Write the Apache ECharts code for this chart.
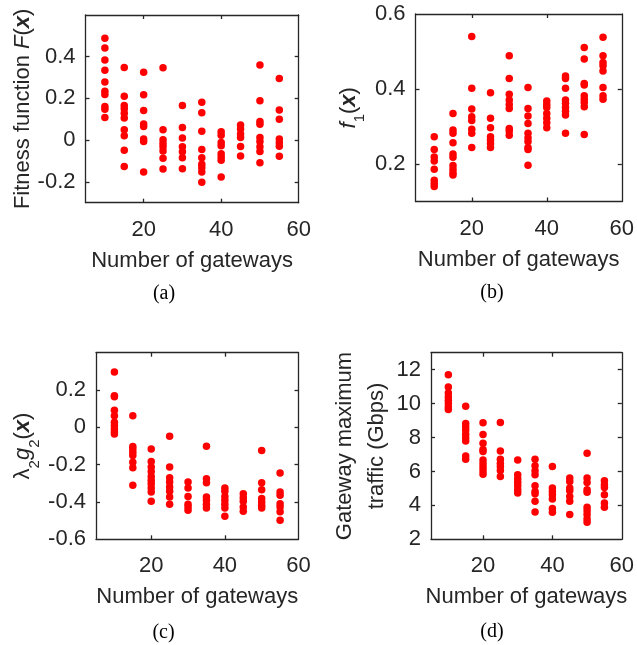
<!DOCTYPE html>
<html><head><meta charset="utf-8">
<script src="https://cdn.jsdelivr.net/npm/echarts@6/dist/echarts.min.js"></script>
<style>html,body{margin:0;padding:0;background:#fff;}#c{width:637px;height:645px;}</style>
</head><body><div id="c"></div>
<script>
// Gateway counts (x categories)
var gateways = [10, 15, 20, 25, 30, 35, 40, 45, 50, 55];

// (a) Fitness function F(x)
var fitnessVals = [
  [0.489, 0.442, 0.384, 0.335, 0.279, 0.234, 0.219, 0.161, 0.148, 0.108],
  [0.348, 0.210, 0.166, 0.150, 0.129, 0.106, 0.050, 0.021, -0.048, -0.127],
  [0.326, 0.218, 0.142, 0.077, 0.065, 0.005, -0.006, -0.153],
  [0.347, 0.050, 0.002, -0.016, -0.032, -0.052, -0.087, -0.139],
  [0.166, 0.060, 0.010, -0.032, -0.056, -0.084, -0.137],
  [0.182, 0.131, 0.042, -0.045, -0.084, -0.116, -0.132, -0.153, -0.202],
  [0.040, 0.024, -0.011, -0.027, -0.065, -0.081, -0.097, -0.177],
  [0.073, 0.053, 0.029, 0.013, -0.031, -0.076],
  [0.360, 0.189, 0.089, 0.076, 0.013, -0.006, -0.032, -0.055, -0.108],
  [0.295, 0.145, 0.100, 0.005, -0.013, -0.029, -0.077]
];

// (b) f1(x)
var f1Vals = [
  [0.273, 0.239, 0.219, 0.208, 0.186, 0.157, 0.148, 0.140],
  [0.335, 0.291, 0.282, 0.257, 0.227, 0.218, 0.196, 0.186, 0.177, 0.171],
  [0.540, 0.402, 0.347, 0.326, 0.316, 0.293, 0.282, 0.244],
  [0.390, 0.322, 0.297, 0.273, 0.264, 0.255, 0.244],
  [0.489, 0.428, 0.386, 0.371, 0.359, 0.348, 0.295, 0.288, 0.277],
  [0.404, 0.348, 0.328, 0.308, 0.282, 0.270, 0.260, 0.244, 0.239, 0.197],
  [0.368, 0.359, 0.351, 0.335, 0.322, 0.310, 0.297],
  [0.435, 0.428, 0.402, 0.371, 0.362, 0.351, 0.341, 0.331, 0.282],
  [0.511, 0.480, 0.415, 0.411, 0.382, 0.373, 0.364, 0.353, 0.279],
  [0.538, 0.489, 0.471, 0.462, 0.448, 0.404, 0.382, 0.373]
];

// (c) lambda2 g2(x)
var g2Vals = [
  [0.297, 0.169, 0.164, 0.092, 0.062, 0.027, 0.009, -0.009, -0.023, -0.036],
  [0.062, -0.103, -0.116, -0.133, -0.151, -0.187, -0.217, -0.311],
  [-0.116, -0.183, -0.213, -0.236, -0.263, -0.284, -0.302, -0.325, -0.347, -0.396],
  [-0.048, -0.213, -0.270, -0.293, -0.320, -0.343, -0.373, -0.412],
  [-0.293, -0.325, -0.370, -0.412, -0.427, -0.444],
  [-0.101, -0.276, -0.297, -0.373, -0.391, -0.414, -0.432],
  [-0.325, -0.343, -0.370, -0.391, -0.412, -0.432, -0.476],
  [-0.356, -0.377, -0.396, -0.427, -0.450],
  [-0.124, -0.297, -0.334, -0.382, -0.400, -0.418, -0.432],
  [-0.245, -0.347, -0.364, -0.409, -0.427, -0.453, -0.498]
];

// (d) Gateway maximum traffic (Gbps)
var trafficVals = [
  [11.70, 10.98, 10.63, 10.39, 10.20, 10.00, 9.80, 9.65],
  [9.84, 8.83, 8.63, 8.44, 8.20, 7.99, 7.79, 6.91, 6.72],
  [8.87, 8.18, 7.66, 7.30, 7.17, 6.68, 6.45, 6.25, 6.04, 5.84],
  [8.89, 7.21, 6.72, 6.48, 6.29, 6.05, 5.70],
  [6.68, 5.80, 5.57, 5.37, 5.16, 4.92, 4.73],
  [6.72, 6.33, 6.04, 5.80, 5.16, 4.82, 4.69, 4.24, 3.61],
  [6.29, 5.02, 4.82, 4.63, 4.38, 3.81, 3.59],
  [5.61, 5.41, 5.02, 4.86, 4.53, 4.24, 3.46],
  [7.07, 5.61, 5.35, 4.92, 4.77, 3.89, 3.69, 3.46, 3.20, 3.01],
  [5.45, 5.21, 5.06, 4.63, 4.14, 3.89]
];

// Tick labels
var xTicks = [20, 40, 60];
var yTicksA = [-0.2, 0, 0.2, 0.4];
var yTicksB = [0.2, 0.4, 0.6];
var yTicksC = [-0.6, -0.4, -0.2, 0, 0.2];
var yTicksD = [2, 4, 6, 8, 10, 12];

var xTitle = 'Number of gateways';
var captions = ['(a)', '(b)', '(c)', '(d)'];

var FONT = 'Liberation Sans, Arial, sans-serif';
var AX = '#262626';
var FS = 22;

function pts(vals) {
  var out = [];
  vals.forEach(function (g, i) { g.forEach(function (v) { out.push([gateways[i], v]); }); });
  return out;
}

var grids = [
  {left: 85.5, top: 15, width: 213.2, height: 187.7},
  {left: 415.5, top: 14, width: 210, height: 187.5},
  {left: 96, top: 352.7, width: 202.5, height: 186.6},
  {left: 431, top: 352.7, width: 193.3, height: 186.6}
];
var yRanges = [[-0.3, 0.6], [0.1, 0.6], [-0.6, 0.4], [2, 13]];
var yTickSets = [yTicksA, yTicksB, yTicksC, yTicksD];
var richBase = {fontSize: FS, fontFamily: FONT, color: AX};
function r(extra) { return Object.assign({}, richBase, extra || {}); }
var yNames = [
  '{n|Fitness function }{i|F}{n|(}{b|x}{n|)}',
  '{i|f}{s|1}{n|(}{b|x}{n|)}',
  '{n|λ}{s|2}{i|g}{s|2}{n|(}{b|x}{n|)}',
  'Gateway maximum\ntraffic (Gbps)'
];
var yNameGaps = [50, 54, 60, 36];
var rich = {
  n: r({lineHeight: 26}),
  i: r({fontStyle: 'italic', lineHeight: 26}),
  b: r({fontWeight: 'bold', fontStyle: 'italic', lineHeight: 26}),
  s: r({fontSize: 15, lineHeight: 26, verticalAlign: 'bottom', padding: [0, 0, -6, 0]})
};
var seriesVals = [fitnessVals, f1Vals, g2Vals, trafficVals];

var lineStyle = {color: AX, width: 1.3};
var xAxes = [], yAxes = [], series = [];
grids.forEach(function (g, k) {
  var baseX = {
    type: 'value', gridIndex: k, min: 5, max: 60,
    splitLine: {show: false},
    axisLine: {show: true, onZero: false, lineStyle: lineStyle},
    axisTick: {show: true, inside: true, length: 4, lineStyle: lineStyle, customValues: [20, 40]}
  };
  xAxes.push(Object.assign({}, baseX, {
    position: 'bottom',
    axisLabel: {show: true, customValues: xTicks, margin: 16, fontSize: FS, fontFamily: FONT, color: AX},
    name: xTitle, nameLocation: 'middle', nameGap: 47,
    nameTextStyle: {fontSize: FS, fontFamily: FONT, color: AX}
  }));
  xAxes.push(Object.assign({}, baseX, {position: 'top', axisLabel: {show: false}}));
  var yr = yRanges[k], yt = yTickSets[k];
  var inner = yt.filter(function (v) { return v > yr[0] && v < yr[1]; });
  var baseY = {
    type: 'value', gridIndex: k, min: yr[0], max: yr[1],
    splitLine: {show: false},
    axisLine: {show: true, onZero: false, lineStyle: lineStyle},
    axisTick: {show: true, inside: true, length: 4, lineStyle: lineStyle, customValues: inner}
  };
  yAxes.push(Object.assign({}, baseY, {
    position: 'left',
    axisLabel: {show: true, customValues: yt, margin: 10, fontSize: FS, fontFamily: FONT, color: AX},
    name: yNames[k], nameLocation: 'middle', nameGap: yNameGaps[k], nameRotate: 90,
    nameTextStyle: k === 3 ? {fontSize: FS, fontFamily: FONT, color: AX, lineHeight: 32, align: 'center'} :
      {fontSize: FS, fontFamily: FONT, color: AX, rich: rich}
  }));
  yAxes.push(Object.assign({}, baseY, {position: 'right', axisLabel: {show: false}}));
  series.push({
    type: 'scatter', xAxisIndex: 2 * k, yAxisIndex: 2 * k,
    data: pts(seriesVals[k]), symbol: 'circle', symbolSize: 7.5,
    itemStyle: {color: '#ff0000', opacity: 1}, silent: true, animation: false
  });
});

var capPos = [[164, 294], [492, 293], [163.5, 633], [492, 632]];
var graphic = captions.map(function (t, k) {
  return {type: 'text', x: capPos[k][0], y: capPos[k][1],
    style: {text: t, fontSize: 20, fontFamily: 'Liberation Serif, Times New Roman, serif', fill: '#000', align: 'center', verticalAlign: 'middle'}};
});

var chart = echarts.init(document.getElementById('c'), null, {renderer: 'canvas'});
chart.setOption({
  animation: false,
  backgroundColor: '#fff',
  grid: grids,
  xAxis: xAxes,
  yAxis: yAxes,
  series: series,
  graphic: graphic
});
</script></body></html>
